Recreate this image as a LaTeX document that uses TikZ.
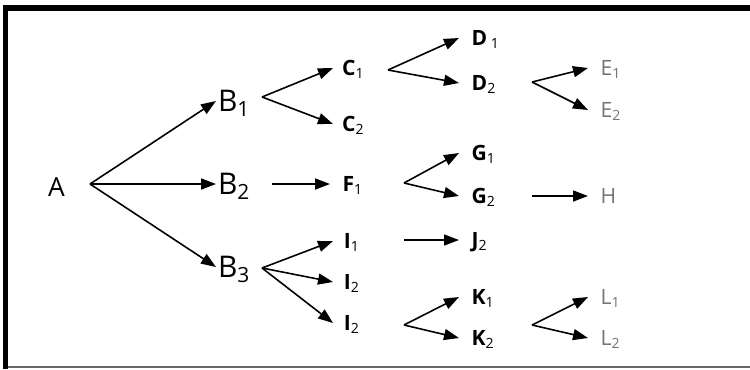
\documentclass[tikz,border=0pt]{standalone}
\usepackage{fontspec}
\setmainfont{Open Sans}
\usetikzlibrary{arrows.meta}
\newcommand{\subidx}[1]{\textsubscript{\mdseries #1}}

\begin{document}
\begin{tikzpicture}[x=0.02cm, y=-0.02cm, >={Triangle[length=0.3cm, width=0.22cm]},
  lbl/.style={anchor=west, inner xsep=7pt, inner ysep=0pt, text height=8pt, text depth=0pt,
    font=\fontsize{12}{13}\selectfont\bfseries},
  big/.style={lbl, inner xsep=1pt, text height=12pt, font=\fontsize{17}{18}\selectfont},
  pale/.style={lbl, text=black!55, font=\fontsize{12}{13}\selectfont},
  br/.style={->, line width=0.9pt}]

  \useasboundingbox (0,0) rectangle (750,369);

  % --- frame: heavy top and left edge, thin bottom edge ---
  \fill[black] (3,5) rectangle (750,10.5);
  \fill[black] (3,5) rectangle (8,369);
  \draw[black!60, line width=0.6pt] (8,367) -- (750,367);

  % --- labels, placed at the tip of the arrow that reaches them ---
  \node[big, font=\fontsize{15}{16}\selectfont] (A) at (46,186) {A};

  \node[big] (B1) at (216,101) {B\subidx{1}};
  \node[big] (B2) at (216,184) {B\subidx{2}};
  \node[big] (B3) at (216,267) {B\subidx{3}};

  \node[lbl, inner xsep=5pt] (C1) at (333,68) {C\subidx{1}};
  \node[lbl, inner xsep=5pt] (C2) at (333,124) {C\subidx{2}};
  \node[lbl] (F1) at (330,184) {F\subidx{1}};
  \node[lbl, inner xsep=6pt] (I1) at (333,241) {I\subidx{1}};
  \node[lbl, inner xsep=6pt] (I2) at (333,282) {I\subidx{2}};
  \node[lbl, inner xsep=6pt] (I3) at (333,323) {I\subidx{2}};

  \node[lbl] (D1) at (459,38) {D\,\subidx{1}};
  \node[lbl] (D2) at (459,83) {D\subidx{2}};
  \node[lbl] (G1) at (459,153) {G\subidx{1}};
  \node[lbl] (G2) at (459,196) {G\subidx{2}};
  \node[lbl] (J2) at (459,240) {J\subidx{2}};
  \node[lbl] (K1) at (459,297) {K\subidx{1}};
  \node[lbl] (K2) at (459,338) {K\subidx{2}};

  \node[pale] (E1) at (588,68) {E\subidx{1}};
  \node[pale] (E2) at (588,110) {E\subidx{2}};
  \node[pale] (H) at (588,196) {H};
  \node[pale] (L1) at (588,297) {L\subidx{1}};
  \node[pale] (L2) at (588,338) {L\subidx{2}};

  % --- fork points the branches leave from ---
  \coordinate (fA) at (90,184);
  \coordinate (fB1) at (262,97);
  \coordinate (fB2) at (272,184);
  \coordinate (fB3) at (262,268);
  \coordinate (fC1) at (388,70);
  \coordinate (fF1) at (404,183);
  \coordinate (fI1) at (404,240);
  \coordinate (fI3) at (404,325);
  \coordinate (fD2) at (532,82);
  \coordinate (fG2) at (532,196);
  \coordinate (fK2) at (532,325);

  % --- branches ---
  \foreach \t in {B1, B2, B3} \draw[br] (fA) -- (\t.west);
  \foreach \t in {C1, C2} \draw[br] (fB1) -- (\t.west);
  \draw[br] (fB2) -- (F1.west);
  \foreach \t in {I1, I2, I3} \draw[br] (fB3) -- (\t.west);
  \foreach \t in {D1, D2} \draw[br] (fC1) -- (\t.west);
  \foreach \t in {G1, G2} \draw[br] (fF1) -- (\t.west);
  \draw[br] (fI1) -- (J2.west);
  \foreach \t in {K1, K2} \draw[br] (fI3) -- (\t.west);
  \foreach \t in {E1, E2} \draw[br] (fD2) -- (\t.west);
  \draw[br] (fG2) -- (H.west);
  \foreach \t in {L1, L2} \draw[br] (fK2) -- (\t.west);

\end{tikzpicture}
\end{document}
